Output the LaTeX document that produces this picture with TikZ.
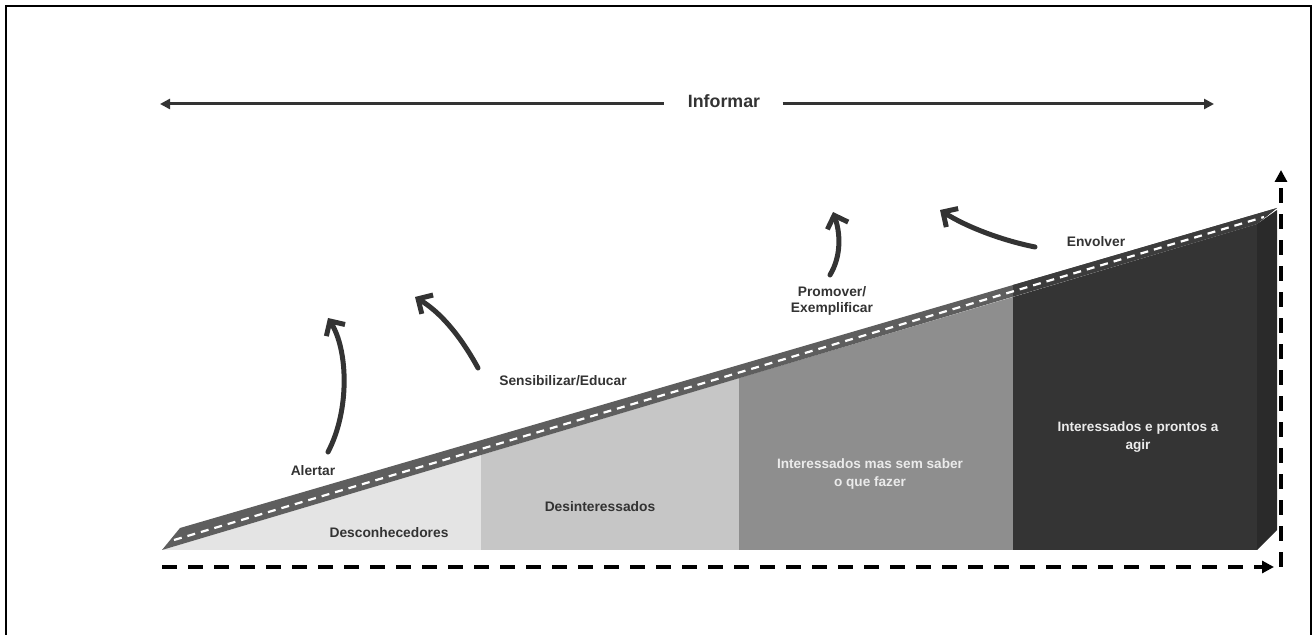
\documentclass[tikz,border=0pt]{standalone}
\usepackage{fontspec}
\setmainfont{Liberation Sans}
\usetikzlibrary{arrows.meta}
\definecolor{ink}{HTML}{333333}
\definecolor{sliceA}{HTML}{E4E4E4}
\definecolor{sliceB}{HTML}{C6C6C6}
\definecolor{sliceC}{HTML}{8E8E8E}
\definecolor{sliceD}{HTML}{343434}
\definecolor{sideD}{HTML}{2A2A2A}
\definecolor{road}{HTML}{5E5E5E}
\definecolor{roaddark}{HTML}{3C3C3C}
\tikzset{
  lbl/.style={font=\bfseries\fontsize{6.9}{8}\selectfont, text=ink, inner sep=0pt},
  wlbl/.style={font=\bfseries\fontsize{6.8}{8.8}\selectfont, text=white!92!black, inner sep=0pt, align=center},
  curvearrow/.style={draw=ink, line width=2.5pt, line cap=round, -{Straight Barb[length=5.5pt,width=11pt,line width=2.5pt]}},
  dasharrow/.style={draw=black, line width=2pt, dash pattern=on 7.5pt off 5.5pt, -{Triangle[length=6pt,width=6pt]}},
}
\begin{document}
\begin{tikzpicture}[x=0.5pt,y=-0.5pt]
\useasboundingbox (0,0) rectangle (1314,635);
% frame
\draw[line width=1pt] (6,640) -- (6,6) -- (1311,6) -- (1311,640);

% slices
\fill[sliceA] (162,550) -- (481,455) -- (481,550) -- cycle;
\fill[sliceB] (481,455) -- (739,378) -- (739,550) -- (481,550) -- cycle;
\fill[sliceC] (739,378) -- (1013,297) -- (1013,550) -- (739,550) -- cycle;
\fill[sliceD] (1013,297) -- (1257,224) -- (1257,550) -- (1013,550) -- cycle;
\fill[sideD] (1257,224) -- (1277,210) -- (1277,530) -- (1257,550) -- cycle;
% road band
\fill[road] (162,550) -- (180,528) -- (1277,208) -- (1257,224) -- cycle;
\begin{scope}
\clip (1013,0) rectangle (1290,600);
\fill[roaddark] (162,550) -- (180,528) -- (1277,208) -- (1257,224) -- cycle;
\end{scope}
\draw[white, line width=1.1pt, dash pattern=on 4pt off 3pt] (174,540) -- (1264,217);

% labels
\node[lbl, font=\bfseries\fontsize{8.9}{10}\selectfont] (inf) at (724,101) {Informar};
\node[lbl] (desc) at (389,533) {Desconhecedores};
\node[lbl] (desi) at (600,507) {Desinteressados};
\node[lbl] (alert) at (313,471) {Alertar};
\node[lbl] (sens) at (563,381) {Sensibilizar/Educar};
\node[lbl, align=center] (prom) at (832,301) {Promover/\\Exemplificar};
\node[lbl] (envo) at (1096,242) {Envolver};
\node[wlbl] (imss) at (870,474) {Interessados mas sem saber\\o que fazer};
\node[wlbl] (iepa) at (1138,437) {Interessados e prontos a\\agir};

% Informar arrow
\coordinate (infL) at (160,104);
\coordinate (infR) at (1214,104);
\draw[ink, line width=1.5pt, -{Triangle[length=5pt,width=5pt]}] (inf.west) ++(-24,3) coordinate (infLs) -- (infL);
\draw[ink, line width=1.5pt, -{Triangle[length=5pt,width=5pt]}] (inf.east) ++(22,3) coordinate (infRs) -- (infR);

% curved arrows
\coordinate (a1s) at (328,452); \coordinate (a1e) at (328,318);
\coordinate (a2s) at (478,368); \coordinate (a2e) at (415,297);
\coordinate (a3s) at (830,275); \coordinate (a3e) at (833,212);
\coordinate (a4s) at (1035,247); \coordinate (a4e) at (940,210);
\draw[curvearrow] (a1s) .. controls (350,410) and (348,350) .. (a1e);
\draw[curvearrow] (a2s) .. controls (460,335) and (440,312) .. (a2e);
\draw[curvearrow] (a3s) .. controls (842,255) and (840,232) .. (a3e);
\draw[curvearrow] (a4s) .. controls (1000,240) and (965,226) .. (a4e);

% axes
\coordinate (o) at (162,567);
\coordinate (xe) at (1274,567);
\coordinate (yo) at (1281,567);
\coordinate (ye) at (1281,170);
\draw[dasharrow] (o) -- (xe);
\draw[dasharrow] (yo) -- (ye);
\end{tikzpicture}
\end{document}
